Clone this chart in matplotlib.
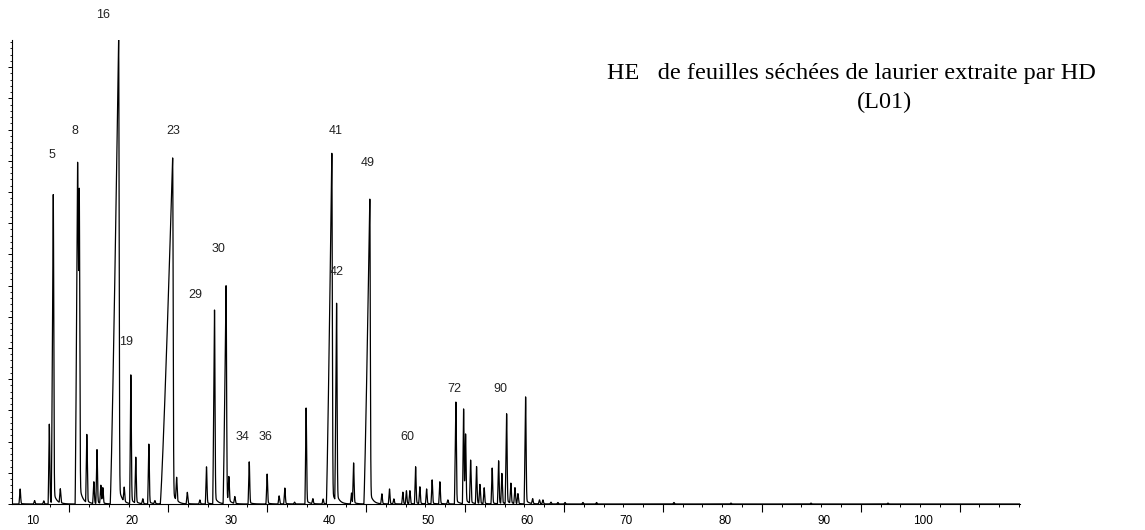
import numpy as np
import matplotlib
matplotlib.use('Agg')
import matplotlib.pyplot as plt
from matplotlib.ticker import MultipleLocator, FixedLocator, NullFormatter

# retention time (min) / height (arbitrary units) / fronting and tailing widths of the main peaks
major_rt = [12.07, 14.53, 14.70, 18.68, 19.91, 24.14, 28.37, 29.54, 37.63,
            40.23, 40.71, 44.07, 52.77, 53.55, 57.90, 59.82]
major_h = [9.90, 10.96, 9.68, 14.90, 4.13, 11.09, 6.22, 6.99, 3.08,
           11.25, 6.35, 9.78, 3.27, 3.04, 2.88, 3.43]
major_front = [0.20, 0.25, 0.15, 0.85, 0.12, 1.25, 0.18, 0.30, 0.12,
               0.55, 0.18, 0.60, 0.15, 0.12, 0.15, 0.15]
major_back = [0.05, 0.06, 0.05, 0.05, 0.05, 0.05, 0.05, 0.05, 0.05,
              0.05, 0.05, 0.05, 0.05, 0.05, 0.05, 0.05]

# small peaks
minor_rt = [8.72, 10.18, 11.11, 11.67, 12.78, 15.46, 16.17, 16.49, 16.88, 17.08,
            19.24, 20.41, 21.12, 21.73, 22.34, 24.54, 25.62, 26.89, 27.56, 29.82,
            30.42, 31.88, 33.69, 34.90, 35.48, 36.46, 38.31, 39.35, 42.22, 42.43,
            45.29, 46.06, 46.50, 47.41, 47.77, 48.12, 48.70, 49.13, 49.81, 50.37,
            51.15, 51.96, 53.75, 54.26, 54.86, 55.20, 55.63, 56.44, 57.09, 57.42,
            58.33, 58.74, 59.04, 60.53, 61.22, 61.57, 62.38, 63.08, 63.80, 65.61,
            66.99, 74.81, 80.58, 88.67, 96.45]
minor_h = [0.48, 0.11, 0.10, 2.56, 0.45, 2.18, 0.70, 1.73, 0.58, 0.50,
           0.45, 1.47, 0.16, 1.92, 0.10, 0.74, 0.37, 0.13, 1.19, 0.77,
           0.22, 1.35, 0.96, 0.26, 0.51, 0.06, 0.16, 0.16, 0.35, 1.31,
           0.32, 0.48, 0.16, 0.38, 0.42, 0.42, 1.19, 0.54, 0.48, 0.77,
           0.71, 0.13, 2.18, 1.38, 1.19, 0.61, 0.51, 1.15, 1.38, 0.96,
           0.64, 0.51, 0.32, 0.16, 0.13, 0.13, 0.06, 0.05, 0.05, 0.05,
           0.05, 0.05, 0.03, 0.03, 0.03]

labels = ['5', '8', '16', '19', '23', '29', '30', '34', '36', '41', '42', '49', '60', '72', '90']
label_t = [11.92, 14.25, 17.08, 19.40, 24.16, 26.48, 28.81, 31.23, 33.56, 40.64, 40.74, 43.87, 47.82, 52.57, 57.32]
label_y = [11.19, 11.96, 15.67, 5.19, 11.96, 6.70, 8.17, 2.15, 2.15, 11.96, 7.44, 10.93, 2.15, 3.69, 3.69]

xtick_labels = [10, 20, 30, 40, 50, 60, 70, 80, 90, 100]


def peak(t, rt, h, front, back=0.05):
    left = h * np.clip(1 - (rt - t) / front, 0, 1) ** 1.2
    right = h * (0.96 * np.exp(-0.5 * ((t - rt) / back) ** 2)
                 + 0.04 * np.exp(-np.clip(t - rt, 0, None) / 0.3))
    return np.where(t <= rt, left, right)


t = np.arange(7.9, 109.8, 0.004)
signal = np.zeros_like(t)
for rt, h, fr, bk in zip(major_rt, major_h, major_front, major_back):
    signal += peak(t, rt, h, fr, bk)
for rt, h in zip(minor_rt, minor_h):
    signal += peak(t, rt, h, 0.12)

fig = plt.figure(figsize=(11.45, 5.3), dpi=100)
ax = fig.add_axes([12 / 1145, 26 / 530, 1008 / 1145, 464 / 530])
ax.plot(t, signal, color='black', linewidth=0.9)
ax.set_xlim(7.9, 109.8)
ax.set_ylim(0, 14.87)

for side in ['top', 'right']:
    ax.spines[side].set_visible(False)
ax.spines['left'].set_linewidth(0.8)
ax.spines['bottom'].set_linewidth(0.8)

# y axis: ticks only
ax.yaxis.set_major_locator(MultipleLocator(1))
ax.yaxis.set_minor_locator(MultipleLocator(0.2))
ax.yaxis.set_major_formatter(NullFormatter())
ax.tick_params(axis='y', which='major', length=3, width=0.7, direction='out')
ax.tick_params(axis='y', which='minor', length=1.8, width=0.6, direction='out')

# x axis: labels, tick marks drawn on their own grid
ax.set_xticks(xtick_labels, [str(v) for v in xtick_labels])
ax.tick_params(axis='x', which='major', length=0, pad=8, labelsize=8.5)
ax.xaxis.set_minor_locator(FixedLocator(np.arange(11.7, 110, 2.0)))
ax.tick_params(axis='x', which='minor', length=2.5, width=0.7, direction='out')
sec = ax.secondary_xaxis('bottom')
sec.set_xticks(np.arange(13.7, 105, 10.0))
sec.xaxis.set_major_formatter(NullFormatter())
sec.tick_params(length=5.5, width=0.8, direction='out')
sec.spines['bottom'].set_visible(False)

for txt, lt, ly in zip(labels, label_t, label_y):
    ax.text(lt, ly, txt, ha='center', va='center', fontsize=9,
            family='Liberation Sans', color='#222222', clip_on=False)

fig.text(607 / 1145, 1 - 74 / 530, 'HE   de feuilles séchées de laurier extraite par HD',
         ha='left', va='center', fontsize=17.5, family='Liberation Serif')
fig.text(884 / 1145, 1 - 102 / 530, '(L01)', ha='center', va='center',
         fontsize=17.5, family='Liberation Serif')

for lab in ax.get_xticklabels():
    lab.set_family('Liberation Sans')

fig.savefig('out.png', dpi=100)
